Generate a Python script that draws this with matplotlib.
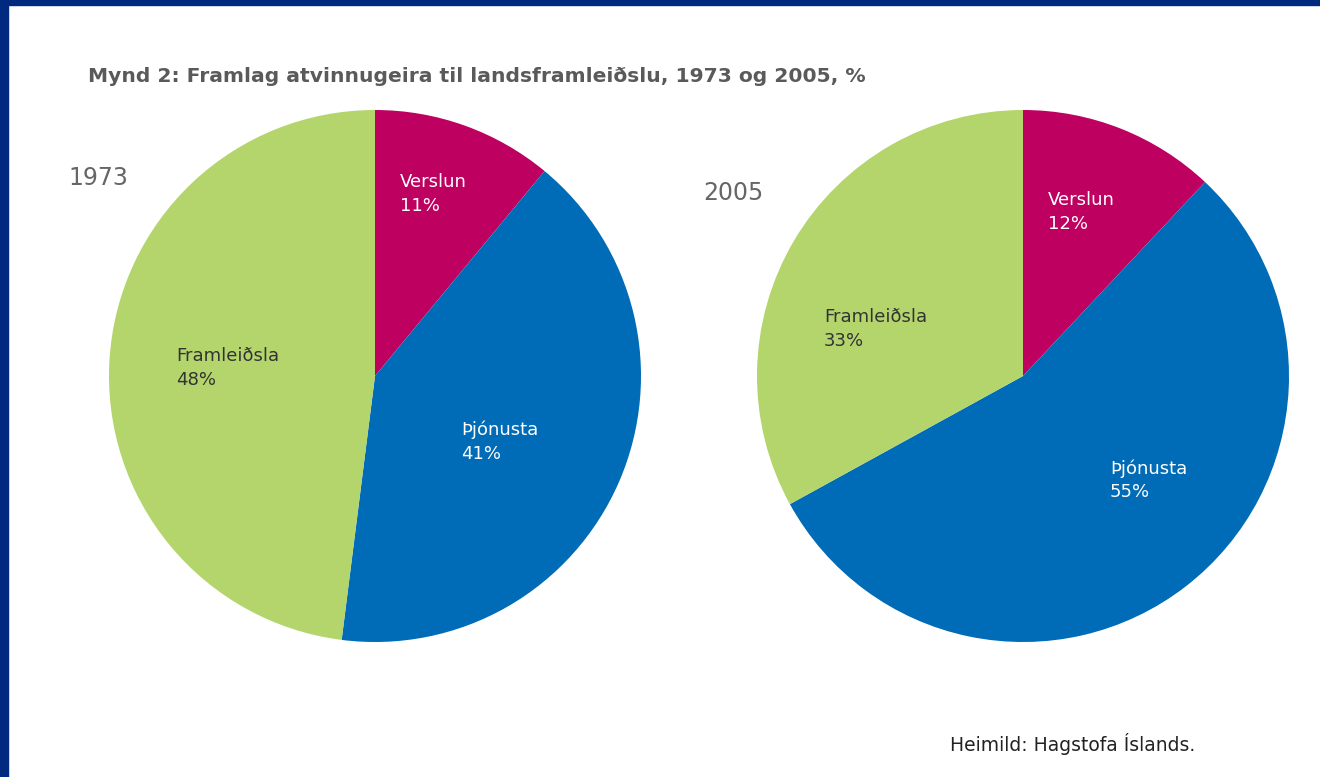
import matplotlib.pyplot as plt
from matplotlib.patches import Rectangle

# data
sectors = ['Verslun', 'Þjónusta', 'Framleiðsla']
share_1973 = [11, 41, 48]
share_2005 = [12, 55, 33]
years = ['1973', '2005']
colors = ['#BE0060', '#006BB6', '#B3D56C']
text_colors = ['white', 'white', '#333333']

W, H = 1320, 777
fig = plt.figure(figsize=(W / 100, H / 100), dpi=100)
fig.patch.set_facecolor('white')


def px(x, y):
    # pixel coords (from top-left) -> figure fraction
    return x / W, 1 - y / H


# dark blue frame (top + left)
fig.patches.append(Rectangle((0, 1 - 5 / H), 1, 5 / H, transform=fig.transFigure,
                             color='#002A7F', zorder=0))
fig.patches.append(Rectangle((0, 0), 8 / W, 1, transform=fig.transFigure,
                             color='#002A7F', zorder=0))

R = 266
centers = [(375, 376), (1023, 376)]
# label anchor (top-left) positions in pixels
label_pos = [
    [(400, 173), (461, 421), (176, 347)],
    [(1048, 191), (1110, 459), (824, 308)],
]
year_pos = [(68, 178), (703, 193)]

for i, vals in enumerate([share_1973, share_2005]):
    cx, cy = centers[i]
    l, b = px(cx - R, cy + R)
    ax = fig.add_axes([l, b, 2 * R / W, 2 * R / H])
    ax.pie(vals, colors=colors, startangle=90, counterclock=False, radius=1,
           wedgeprops=dict(linewidth=0))
    ax.set_xlim(-1, 1)
    ax.set_ylim(-1, 1)
    ax.axis('off')
    for j, name in enumerate(sectors):
        x, y = px(*label_pos[i][j])
        fig.text(x, y, f'{name}\n{vals[j]}%', ha='left', va='top', fontsize=13,
                 color=text_colors[j], linespacing=1.4, fontweight='medium')
    x, y = px(*year_pos[i])
    fig.text(x, y, years[i], ha='left', va='center', fontsize=17, color='#666666')

x, y = px(88, 76)
fig.text(x, y, 'Mynd 2: Framlag atvinnugeira til landsframleiðslu, 1973 og 2005, %',
         ha='left', va='center', fontsize=14.6, fontweight='bold', color='#5A5A5A')
x, y = px(950, 744)
fig.text(x, y, 'Heimild: Hagstofa Íslands.', ha='left', va='center', fontsize=13.5,
         color='#222222')

fig.savefig('out.png', dpi=100)
